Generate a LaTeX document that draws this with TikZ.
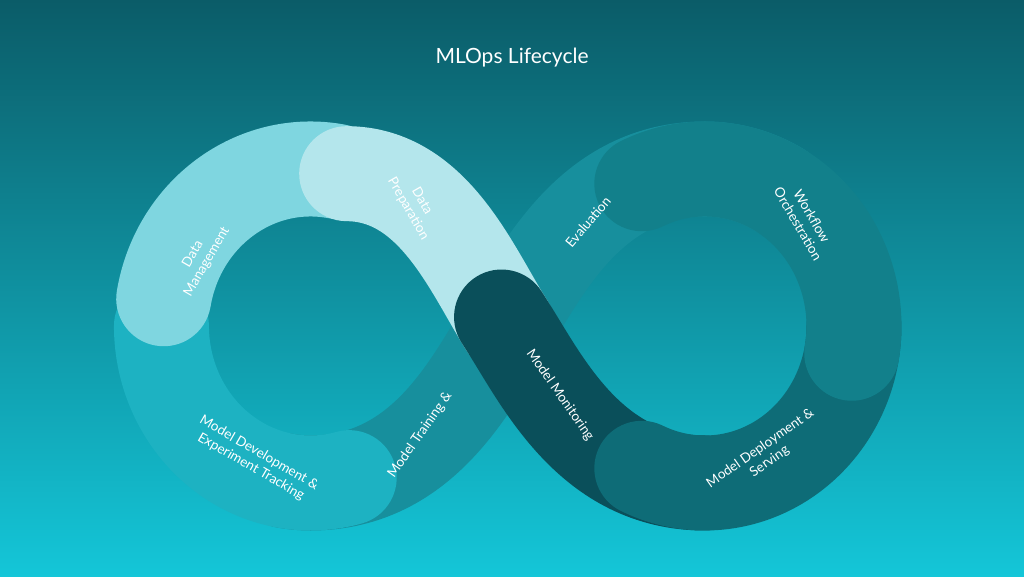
\documentclass[tikz,border=0pt]{standalone}
\usepackage{fontspec}
\setmainfont{Lato}
\definecolor{bgtop}{HTML}{0B5C68}
\definecolor{bgbot}{HTML}{14C6D8}
\definecolor{cDM}{HTML}{7FD6E0}
\definecolor{cDP}{HTML}{B4E6EC}
\definecolor{cDG}{HTML}{178F9D}
\definecolor{cMD}{HTML}{1DB2C2}
\definecolor{cMM}{HTML}{0A4F5A}
\definecolor{cMS}{HTML}{0E6C77}
\definecolor{cWO}{HTML}{12808B}
\begin{document}
\begin{tikzpicture}[x=1pt,y=1pt,
  band/.style={line width=95pt,line cap=round},
  lab/.style={text=white,font=\fontsize{13.5}{16}\selectfont,align=center}]
\shade[top color=bgtop,bottom color=bgbot] (0,0) rectangle (1024,576);
\useasboundingbox (0,0) rectangle (1024,576);
\begin{scope}[xshift=25.6pt,xscale=0.95]
\coordinate (L) at (300,250);
\coordinate (R) at (715,250);
\coordinate (C) at (507,250);
% diagonal: Model Training & / Evaluation
\draw[band,cDG] ([shift={(-100:157)}]L) arc[start angle=-100,end angle=-90,radius=157]
  .. controls (420,93) and (470,195) .. (C)
  .. controls (544,305) and (595,407) .. (715,407)
  arc[start angle=90,end angle=60,radius=157];
% Model Development
\draw[band,cMD] ([shift={(180:157)}]L) arc[start angle=180,end angle=285,radius=157];
% Data Management
\draw[band,cDM] ([shift={(170:157)}]L) arc[start angle=170,end angle=80,radius=157];
% Data Preparation
\draw[band,cDP] ([shift={(76:157)}]L) .. controls (430,402) and (470,305) .. (C);
% Model Monitoring
\draw[band,cMM] (501,259) -- (C) .. controls (544,195) and (595,93) .. (715,93);
% Model Deployment
\draw[band,cMS] ([shift={(-115:157)}]R) arc[start angle=-115,end angle=0,radius=157];
% Workflow
\draw[band,cWO] ([shift={(115:157)}]R) arc[start angle=115,end angle=-10,radius=157];
\end{scope}
\node[text=white,font=\fontsize{21}{25}\selectfont] (t) at (512,518) {MLOps Lifecycle};
\node[lab,rotate=60] (dm) at (200,318) {Data\\Management};
\node[lab,rotate=-60] (dp) at (415,371) {Data\\Preparation};
\node[lab,rotate=50] (ev) at (588,354) {Evaluation};
\node[lab,rotate=-60] (wo) at (805,356) {Workflow\\Orchestration};
\node[lab,rotate=-55] (mm) at (560,181) {Model Monitoring};
\node[lab,rotate=35] (ms) at (765,121) {Model Deployment \&\\Serving};
\node[lab,rotate=55] (mt) at (420,141) {Model Training \&};
\node[lab,rotate=-30] (md) at (255,116) {Model Development \&\\Experiment Tracking};
\end{tikzpicture}
\end{document}
